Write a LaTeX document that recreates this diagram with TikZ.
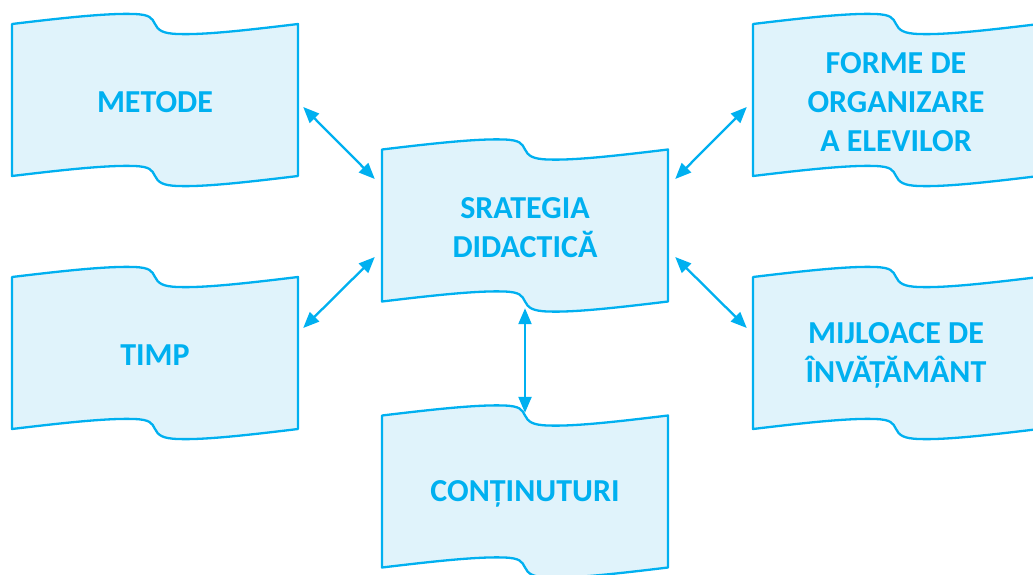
\documentclass[tikz,border=0pt]{standalone}
\usepackage{fontspec}
\setmainfont{Carlito}
\usetikzlibrary{arrows.meta,calc}
\definecolor{cyanline}{HTML}{00B0F0}
\definecolor{cyanfill}{HTML}{E0F3FB}
\tikzset{
  flagstyle/.style={draw=cyanline, fill=cyanfill, line width=2.3pt, line join=round},
  lbl/.style={minimum width=286pt, minimum height=152pt, inner sep=0pt, align=center,
    text=cyanline, font=\bfseries\fontsize{32}{39}\selectfont},
  conn/.style={draw=cyanline, line width=2.3pt, {Triangle[length=16pt,width=13pt]}-{Triangle[length=16pt,width=13pt]}}
}
\newcommand\flagshape[2]{%
  \begin{scope}[shift={(#1,#2)}]
    \filldraw[flagstyle] (0,0) .. controls (50,-6) and (95,-11) .. (122,-10)
      .. controls (138,-9.5) and (140,-6) .. (143,0)
      .. controls (146,6) and (150,9.5) .. (166,10)
      .. controls (193,11) and (236,6) .. (286,0)
      -- (286,152)
      .. controls (236,158) and (193,163) .. (166,162)
      .. controls (150,161.5) and (146,158) .. (143,152)
      .. controls (140,146) and (138,142.5) .. (122,142)
      .. controls (95,141) and (50,146) .. (0,152) -- cycle;
  \end{scope}}
\begin{document}
\begin{tikzpicture}[x=1pt,y=-1pt]
\useasboundingbox (0,0) rectangle (1033,574);
\clip (0,0) rectangle (1033,574);
\flagshape{12}{24}
\flagshape{12}{277}
\flagshape{382}{149.5}
\flagshape{382}{415.5}
\flagshape{753}{24}
\flagshape{753}{277}
\node[lbl] (metode) at (155,102) {METODE};
\node[lbl] (timp) at (155,355) {TIMP};
\node[lbl] (strat) at (525,227.5) {SRATEGIA\\DIDACTICĂ};
\node[lbl] (cont) at (525,493.5) {CONȚINUTURI};
\node[lbl] (forme) at (896,102) {FORME DE\\ORGANIZARE\\A ELEVILOR};
\node[lbl] (mijl) at (896,355) {MIJLOACE DE\\ÎNVĂȚĂMÂNT};
\draw[conn] ($(metode.east)+(5,5)$) -- ($(strat.west)+(-7,-48.5)$);
\draw[conn] ($(timp.east)+(5,-27)$) -- ($(strat.west)+(-7,29.5)$);
\draw[conn] ($(forme.west)+(-6,5)$) -- ($(strat.east)+(7,-48.5)$);
\draw[conn] ($(mijl.west)+(-6,-27)$) -- ($(strat.east)+(7,29.5)$);
\draw[conn] ($(strat.south)+(0,4.5)$) -- ($(cont.north)+(0,-4.5)$);
\end{tikzpicture}
\end{document}
